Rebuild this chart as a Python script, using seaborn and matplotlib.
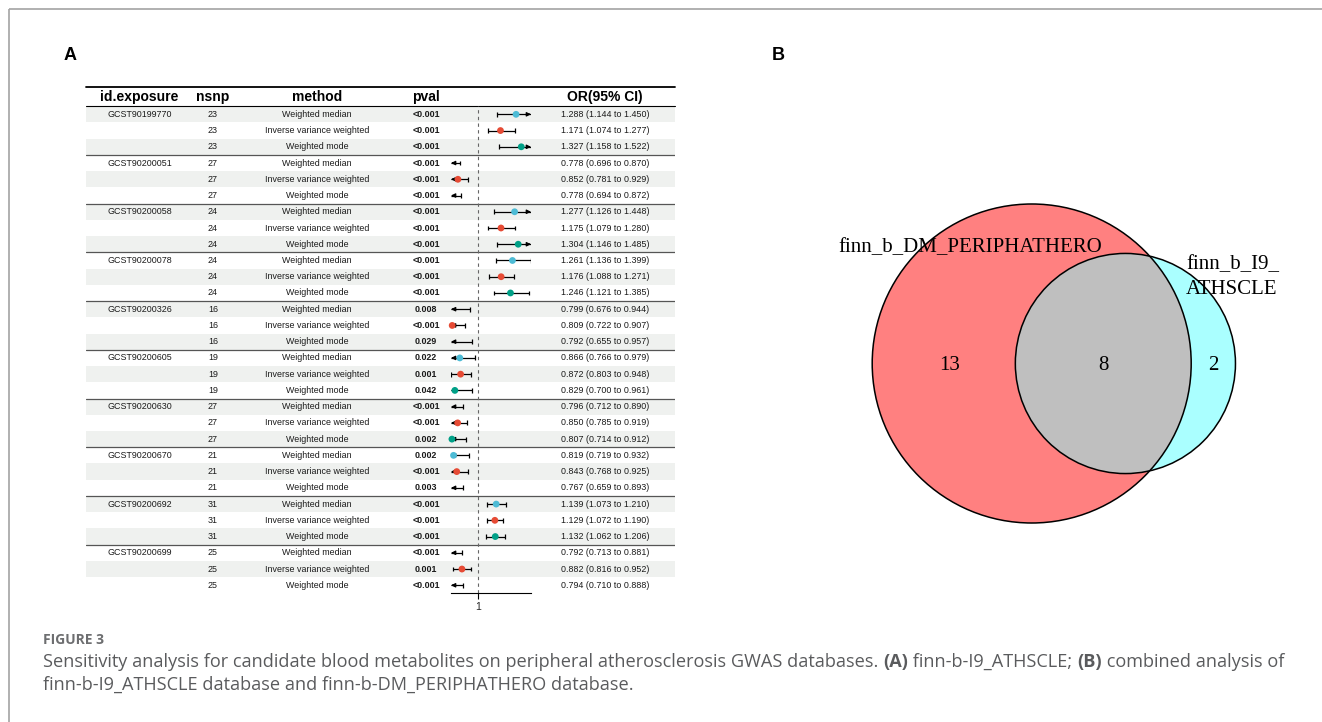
import numpy as np
import pandas as pd
import matplotlib
matplotlib.use("Agg")
import matplotlib.pyplot as plt
import seaborn as sns
from matplotlib.patches import Circle

# ---------------- data ----------------
exposure_ids = ["GCST90199770", "GCST90200051", "GCST90200058", "GCST90200078",
                "GCST90200326", "GCST90200605", "GCST90200630", "GCST90200670",
                "GCST90200692", "GCST90200699"]
nsnp_values = [23, 27, 24, 24, 16, 19, 27, 21, 31, 25]
methods = ["Weighted median", "Inverse variance weighted", "Weighted mode"]
pvals = ["<0.001", "<0.001", "<0.001",
         "<0.001", "<0.001", "<0.001",
         "<0.001", "<0.001", "<0.001",
         "<0.001", "<0.001", "<0.001",
         "0.008", "<0.001", "0.029",
         "0.022", "0.001", "0.042",
         "<0.001", "<0.001", "0.002",
         "0.002", "<0.001", "0.003",
         "<0.001", "<0.001", "<0.001",
         "<0.001", "0.001", "<0.001"]
or_values = [1.288, 1.171, 1.327, 0.778, 0.852, 0.778, 1.277, 1.175, 1.304,
             1.261, 1.176, 1.246, 0.799, 0.809, 0.792, 0.866, 0.872, 0.829,
             0.796, 0.850, 0.807, 0.819, 0.843, 0.767, 1.139, 1.129, 1.132,
             0.792, 0.882, 0.794]
ci_lower = [1.144, 1.074, 1.158, 0.696, 0.781, 0.694, 1.126, 1.079, 1.146,
            1.136, 1.088, 1.121, 0.676, 0.722, 0.655, 0.766, 0.803, 0.700,
            0.712, 0.785, 0.714, 0.719, 0.768, 0.659, 1.073, 1.072, 1.062,
            0.713, 0.816, 0.710]
ci_upper = [1.450, 1.277, 1.522, 0.870, 0.929, 0.872, 1.448, 1.280, 1.485,
            1.399, 1.271, 1.385, 0.944, 0.907, 0.957, 0.979, 0.948, 0.961,
            0.890, 0.919, 0.912, 0.932, 0.925, 0.893, 1.210, 1.190, 1.206,
            0.881, 0.952, 0.888]
method_colors = {"Weighted median": "#4DBBD5",
                 "Inverse variance weighted": "#E64B35",
                 "Weighted mode": "#00A087"}
headers = ["id.exposure", "nsnp", "method", "pval", "OR(95% CI)"]
x_limits = [0.8, 1.4]
x_ticks = [1]

venn_names = ["finn_b_DM_PERIPHATHERO", "finn_b_I9_\nATHSCLE"]
venn_counts = [13, 8, 2]   # only first, both, only second

caption_title = "FIGURE 3"
caption_line1 = [("Sensitivity analysis for candidate blood metabolites on peripheral atherosclerosis GWAS databases. ", "normal"),
                 ("(A)", "bold"), (" finn-b-I9_ATHSCLE; ", "normal"), ("(B)", "bold"),
                 (" combined analysis of", "normal")]
caption_line2 = "finn-b-I9_ATHSCLE database and finn-b-DM_PERIPHATHERO database."

# ---------------- table frame ----------------
n_groups = len(exposure_ids)
n_rows = n_groups * len(methods)
df = pd.DataFrame({
    "row": np.arange(n_rows),
    "exposure": np.repeat(exposure_ids, len(methods)),
    "nsnp": np.repeat(nsnp_values, len(methods)),
    "method": methods * n_groups,
    "pval": pvals,
    "or": or_values,
    "lo": ci_lower,
    "hi": ci_upper,
})
df["label"] = [f"{o:.3f} ({l:.3f} to {h:.3f})" for o, l, h in zip(df["or"], df["lo"], df["hi"])]

sns.set_theme(style="white")
plt.rcParams["font.family"] = ["Liberation Sans", "DejaVu Sans"]

W, H = 1322, 722
fig = plt.figure(figsize=(W / 100, H / 100), dpi=100)
fig.patch.set_facecolor("white")


def px_rect(x0, y0, x1, y1):
    return [x0 / W, 1 - y1 / H, (x1 - x0) / W, (y1 - y0) / H]


row_px = 16.24
rows_top_px = 106.2
table_top_px = 87.0
table_bottom_px = rows_top_px + n_rows * row_px
y_top_units = -0.5 - (rows_top_px - table_top_px) / row_px

# background table axes (x in pixel units, y in row units)
axt = fig.add_axes(px_rect(86, table_top_px, 675, table_bottom_px))
axt.set_xlim(86, 675)
axt.set_ylim(n_rows - 0.5, y_top_units)
axt.axis("off")

for r in range(0, n_rows, 2):
    axt.axhspan(r - 0.5, r + 0.5, color="#eff1ef", lw=0, zorder=0)

axt.axhline(y_top_units, color="black", lw=1.3, clip_on=False, zorder=2)
axt.axhline(-0.5, color="black", lw=0.8, clip_on=False, zorder=2)
for g in range(1, n_groups):
    axt.axhline(g * len(methods) - 0.5, color="#555555", lw=0.9, zorder=2)

col_x = [139.5, 213, 317, 426, 605]
header_y = -0.5 - (rows_top_px - 97) / row_px
for cx, h in zip(col_x, headers):
    axt.text(cx, header_y, h, ha="center", va="center", fontsize=10,
             fontweight="bold", color="black")

txt_kw = dict(ha="center", va="center", fontsize=6.4, color="#1a1a1a")
for _, rr in df.iterrows():
    r = rr["row"]
    if r % len(methods) == 0:
        axt.text(col_x[0], r, rr["exposure"], **txt_kw)
    axt.text(col_x[1], r, str(rr["nsnp"]), **txt_kw)
    axt.text(col_x[2], r, rr["method"], **txt_kw)
    axt.text(col_x[3], r, rr["pval"], fontweight="bold", **txt_kw)
    axt.text(col_x[4], r, rr["label"], **txt_kw)

# ---------------- forest axes ----------------
axf = fig.add_axes(px_rect(451, rows_top_px, 531, table_bottom_px))
axf.set_facecolor("none")
axf.axvline(1, color="#666666", lw=0.8, ls=(0, (3, 3)), zorder=1)

cap = 0.15
arrow_kw = dict(arrowstyle="-|>", color="black", lw=0.9, mutation_scale=6,
                shrinkA=0, shrinkB=0)
for _, rr in df.iterrows():
    y = rr["row"]
    lo_c = max(rr["lo"], x_limits[0])
    hi_c = min(rr["hi"], x_limits[1])
    axf.hlines(y, lo_c, hi_c, color="black", lw=0.9, zorder=2)
    if rr["lo"] >= x_limits[0]:
        axf.vlines(rr["lo"], y - cap, y + cap, color="black", lw=0.9, zorder=2)
    else:
        axf.annotate("", xy=(x_limits[0], y), xytext=(x_limits[0] + 0.02, y),
                     arrowprops=arrow_kw, annotation_clip=False, zorder=2)
    if rr["hi"] <= x_limits[1]:
        axf.vlines(rr["hi"], y - cap, y + cap, color="black", lw=0.9, zorder=2)
    else:
        axf.annotate("", xy=(x_limits[1], y), xytext=(x_limits[1] - 0.02, y),
                     arrowprops=arrow_kw, annotation_clip=False, zorder=2)

inside = df[(df["or"] >= x_limits[0]) & (df["or"] <= x_limits[1])]
sns.scatterplot(data=inside, x="or", y="row", hue="method", palette=method_colors,
                s=24, edgecolor="none", linewidth=0, legend=False, ax=axf,
                zorder=3, clip_on=False)

axf.set_xlim(*x_limits)
axf.set_ylim(n_rows - 0.5, -0.5)
axf.set_xlabel("")
axf.set_ylabel("")
axf.set_yticks([])
axf.set_xticks(x_ticks)
axf.set_xticklabels([str(t) for t in x_ticks])
axf.tick_params(axis="x", length=4, width=0.8, color="black", labelsize=7.5,
                pad=2, bottom=True)
for s in ["top", "left", "right"]:
    axf.spines[s].set_visible(False)
axf.spines["bottom"].set_color("black")
axf.spines["bottom"].set_linewidth(0.8)

# ---------------- overlay axes (pixel coordinates) ----------------
axo = fig.add_axes([0, 0, 1, 1])
axo.set_xlim(0, W)
axo.set_ylim(H, 0)
axo.axis("off")
axo.set_facecolor("none")

# frame
axo.plot([9, W], [9, 9], color="#a3a3a3", lw=1.2, solid_capstyle="butt")
axo.plot([9, 9], [9, H], color="#a3a3a3", lw=1.2, solid_capstyle="butt")

# panel letters
axo.text(70, 56, "A", ha="center", va="center", fontsize=13, fontweight="bold", color="black")
axo.text(778, 56, "B", ha="center", va="center", fontsize=13, fontweight="bold", color="black")

# ---------------- Venn ----------------
n1 = venn_counts[0] + venn_counts[1]
n2 = venn_counts[1] + venn_counts[2]
k = 159.5 / np.sqrt(n1)           # px per sqrt(count)
r1 = k * np.sqrt(n1)
r2 = k * np.sqrt(n2)
target = np.pi * k ** 2 * venn_counts[1]


def lens_area(d, a, b):
    if d >= a + b:
        return 0.0
    if d <= abs(a - b):
        return np.pi * min(a, b) ** 2
    t1 = a ** 2 * np.arccos((d ** 2 + a ** 2 - b ** 2) / (2 * d * a))
    t2 = b ** 2 * np.arccos((d ** 2 + b ** 2 - a ** 2) / (2 * d * b))
    t3 = 0.5 * np.sqrt((-d + a + b) * (d + a - b) * (d - a + b) * (d + a + b))
    return t1 + t2 - t3


lo_d, hi_d = abs(r1 - r2) + 1e-6, r1 + r2
for _ in range(80):
    mid = 0.5 * (lo_d + hi_d)
    if lens_area(mid, r1, r2) > target:
        lo_d = mid
    else:
        hi_d = mid
d = 0.5 * (lo_d + hi_d)

c1 = (1031.7, 363.5)
c2 = (c1[0] + d, c1[1])

big = Circle(c1, r1, facecolor="#ff8080", edgecolor="none", zorder=1)
small = Circle(c2, r2, facecolor="#aaffff", edgecolor="none", zorder=2)
axo.add_patch(big)
axo.add_patch(small)
inter = Circle(c2, r2, facecolor="#bfbfbf", edgecolor="none", zorder=3)
axo.add_patch(inter)
inter.set_clip_path(Circle(c1, r1, transform=axo.transData))
axo.add_patch(Circle(c1, r1, facecolor="none", edgecolor="black", lw=1.1, zorder=4))
axo.add_patch(Circle(c2, r2, facecolor="none", edgecolor="black", lw=1.1, zorder=4))

serif = ["Liberation Serif", "DejaVu Serif"]
lab_y = c1[1] + 1.5
xs = [((c1[0] - r1) + (c2[0] - r2)) / 2 + 6,
      ((c2[0] - r2) + (c1[0] + r1)) / 2,
      ((c1[0] + r1) + (c2[0] + r2)) / 2]
for x, n in zip(xs, venn_counts):
    axo.text(x, lab_y, str(n), ha="center", va="center", fontsize=15,
             family=serif, color="black", zorder=5)

axo.text(838, 248, venn_names[0], ha="left", va="center", fontsize=15,
         family=serif, color="black", zorder=5)
axo.text(1186, 277, venn_names[1], ha="left", va="center", fontsize=15,
         family=serif, color="black", linespacing=1.36, zorder=5)

# ---------------- caption ----------------
cap_font = ["Open Sans", "DejaVu Sans"]
cap_size = 13.1
axo.text(43, 640, caption_title, ha="left", va="center", fontsize=10,
         fontweight="bold", family=cap_font, color="#6d6e70")
prev = None
for seg, wt in caption_line1:
    if prev is None:
        prev = axo.text(43, 662, seg, ha="left", va="center", fontsize=cap_size,
                        fontweight=wt, family=cap_font, color="#5a5b5d")
    else:
        prev = axo.annotate(seg, xy=(1, 0.5), xycoords=prev, ha="left", va="center",
                            fontsize=cap_size, fontweight=wt, family=cap_font,
                            color="#5a5b5d")
axo.text(43, 685, caption_line2, ha="left", va="center", fontsize=cap_size,
         family=cap_font, color="#5a5b5d")

fig.savefig("out.png", dpi=100, facecolor="white")
